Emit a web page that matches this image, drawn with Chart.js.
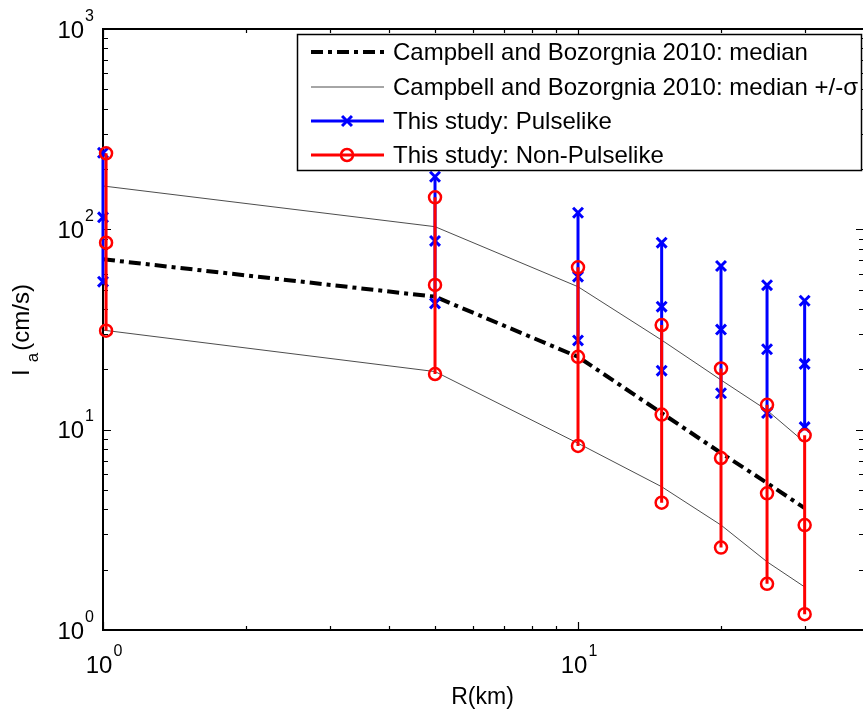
<!DOCTYPE html>
<html>
<head>
<meta charset="utf-8">
<script src="https://cdn.jsdelivr.net/npm/chart.js@4/dist/chart.umd.min.js"></script>
<style>
  html, body { margin: 0; padding: 0; overflow: hidden; background: #fff; }
  canvas { display: block; }
</style>
</head>
<body>
<canvas id="chart" width="880" height="713"></canvas>
<script>
// Rupture distance R (km)
const distances = [1, 5, 10, 15, 20, 25, 30];
const nonPulseDistances = [1.015, 5, 10, 15, 20, 25, 30];

// Campbell and Bozorgnia 2010 prediction of Arias intensity (cm/s)
const cbMedian = [70.9, 46.1, 23.1, 12.1, 7.65, 5.42, 4.06];
const cbPlusSigma = [164.6, 103.1, 51.7, 28.0, 17.7, 12.5, 8.65];
const cbMinusSigma = [31.4, 19.5, 8.55, 5.19, 3.34, 2.19, 1.64];

// This study, pulse-like records: upper / middle / lower value at each R
const pulseHigh = [241, 183, 121, 85.8, 65.6, 52.6, 44.0];
const pulseMid = [114.8, 87.5, 58.0, 41.1, 31.6, 25.2, 21.3];
const pulseLow = [54.8, 42.7, 27.9, 19.7, 15.2, 12.1, 10.3];

// This study, non-pulse-like records
const nonPulseHigh = [239.6, 144.5, 64.6, 33.3, 20.2, 13.3, 9.37];
const nonPulseMid = [85.8, 52.8, 23.1, 11.9, 7.22, 4.81, 3.34];
const nonPulseLow = [31.2, 18.96, 8.29, 4.32, 2.58, 1.70, 1.20];

// Axis ranges and labelled decades
const xRange = [1, 40];
const yRange = [1, 1000];
const xTickExponents = [0, 1];
const yTickExponents = [0, 1, 2, 3];

const seriesLabels = [
  'Campbell and Bozorgnia 2010: median',
  'Campbell and Bozorgnia 2010: median +/-\u03c3',
  'This study: Pulselike',
  'This study: Non-Pulselike'
];
const xTitle = 'R(km)';
const yTitleMain = 'I';
const yTitleSub = 'a';
const yTitleRest = '(cm/s)';

const FONT = "'Liberation Sans', Arial, Helvetica, sans-serif";

function curve(dists, vals) {
  return dists.map((d, i) => ({ x: d, y: vals[i] }));
}
function ranges(dists, hi, mid, lo) {
  const pts = [];
  dists.forEach((d, i) => {
    pts.push({ x: d, y: hi[i] }, { x: d, y: mid[i] }, { x: d, y: lo[i] }, { x: d, y: null });
  });
  return pts;
}

// Inward ticks on all four sides plus the box, MATLAB style
const axesBox = {
  id: 'axesBox',
  beforeDatasetsDraw(chart) {
    const { ctx, chartArea: a, scales: { x, y } } = chart;
    const logTicks = (min, max) => {
      const out = [];
      for (let p = Math.floor(Math.log10(min)); p <= Math.ceil(Math.log10(max)); p++) {
        for (let m = 1; m <= 9; m++) {
          const v = m * Math.pow(10, p);
          if (v >= min * 0.999 && v <= max * 1.001) out.push({ v, major: m === 1 });
        }
      }
      return out;
    };
    ctx.save();
    ctx.strokeStyle = '#000';
    ctx.lineWidth = 1.2;
    ctx.beginPath();
    logTicks(xRange[0], xRange[1]).forEach(t => {
      const px = Math.round(x.getPixelForValue(t.v)) + 0.5;
      const len = t.major ? 8 : 4;
      ctx.moveTo(px, a.bottom); ctx.lineTo(px, a.bottom - len);
      ctx.moveTo(px, a.top); ctx.lineTo(px, a.top + len);
    });
    logTicks(yRange[0], yRange[1]).forEach(t => {
      const py = Math.round(y.getPixelForValue(t.v)) + 0.5;
      const len = t.major ? 8 : 5;
      ctx.moveTo(a.left, py); ctx.lineTo(a.left + len, py);
      ctx.moveTo(a.right, py); ctx.lineTo(a.right - len, py);
    });
    ctx.stroke();
    ctx.lineWidth = 2;
    ctx.strokeRect(a.left, a.top, a.right - a.left, a.bottom - a.top);
    ctx.restore();
  },
  afterDraw(chart) {
    const { ctx, chartArea: a, scales: { x, y } } = chart;
    const base = 24, sup = 16;
    ctx.save();
    ctx.fillStyle = '#000';
    ctx.textBaseline = 'alphabetic';
    const pow10 = (e, left, baseline) => {
      ctx.font = base + 'px ' + FONT;
      ctx.fillText('10', left, baseline);
      const w = ctx.measureText('10').width;
      ctx.font = sup + 'px ' + FONT;
      ctx.fillText(String(e), left + w + 1, baseline - 17);
    };
    const widthOf = e => {
      ctx.font = base + 'px ' + FONT;
      const w1 = ctx.measureText('10').width;
      ctx.font = sup + 'px ' + FONT;
      return w1 + 1 + ctx.measureText(String(e)).width;
    };
    // y tick labels
    yTickExponents.forEach(e => {
      const py = y.getPixelForValue(Math.pow(10, e));
      const w = widthOf(e);
      pow10(e, a.left - 9 - w, py + 8.6);
    });
    // x tick labels
    xTickExponents.forEach(e => {
      const px = x.getPixelForValue(Math.pow(10, e));
      const w = widthOf(e);
      pow10(e, px - w / 2 + 1, a.bottom + 43);
    });
    // x title
    ctx.font = '23px ' + FONT;
    ctx.textAlign = 'center';
    ctx.fillText(xTitle, (a.left + 862) / 2, 704);
    // y title (rotated, with subscript)
    ctx.translate(29, 330);
    ctx.rotate(-Math.PI / 2);
    ctx.textAlign = 'left';
    ctx.font = '24px ' + FONT;
    const wI = ctx.measureText(yTitleMain).width;
    const wR = ctx.measureText(yTitleRest).width;
    ctx.font = '17px ' + FONT;
    const wA = ctx.measureText(yTitleSub).width;
    let sx = -(wI + wA + wR + 9) / 2;
    ctx.font = '24px ' + FONT;
    ctx.fillText(yTitleMain, sx, 0);
    sx += wI + 7;
    ctx.font = '17px ' + FONT;
    ctx.fillText(yTitleSub, sx, 9);
    sx += wA + 2;
    ctx.font = '24px ' + FONT;
    ctx.fillText(yTitleRest, sx, 0);
    ctx.restore();

    // legend box
    const datasets = chart.data.datasets;
    const rows = [52, 87, 121, 155];
    const textX = 393;
    const lf = '24px ' + FONT;
    ctx.save();
    ctx.font = lf;
    let maxW = 0;
    seriesLabels.forEach(l => { maxW = Math.max(maxW, ctx.measureText(l).width); });
    const bx0 = 297.5, by0 = 34.5, bx1 = Math.min(textX + maxW + 7, 861.5), by1 = 170.5;
    ctx.fillStyle = '#fff';
    ctx.fillRect(bx0, by0, bx1 - bx0, by1 - by0);
    ctx.strokeStyle = '#000';
    ctx.lineWidth = 1.5;
    ctx.strokeRect(bx0, by0, bx1 - bx0, by1 - by0);
    seriesLabels.forEach((label, i) => {
      const ds = datasets.find(d => d.label === label);
      const ry = rows[i];
      ctx.save();
      ctx.strokeStyle = ds.borderColor;
      ctx.lineWidth = ds.borderWidth;
      ctx.setLineDash(ds.borderDash || []);
      ctx.beginPath();
      ctx.moveTo(311, ry); ctx.lineTo(384, ry);
      ctx.stroke();
      ctx.setLineDash([]);
      if (ds.pointRadius > 0) {
        ctx.strokeStyle = ds.pointBorderColor;
        ctx.fillStyle = ds.pointBackgroundColor;
        ctx.lineWidth = ds.pointBorderWidth;
        Chart.helpers.drawPoint(ctx, {
          pointStyle: ds.pointStyle, rotation: 0,
          radius: ds.pointRadius, borderWidth: ds.pointBorderWidth
        }, 347, ry);
      }
      ctx.restore();
      ctx.fillStyle = '#000';
      ctx.font = lf;
      ctx.textBaseline = 'middle';
      ctx.fillText(label, textX, ry + 1);
    });
    ctx.restore();
  }
};

const chart = new Chart(document.getElementById('chart'), {
  type: 'scatter',
  data: {
    datasets: [
      {
        label: seriesLabels[3],
        data: ranges(nonPulseDistances, nonPulseHigh, nonPulseMid, nonPulseLow),
        showLine: true, spanGaps: false,
        borderColor: '#ff0000', borderWidth: 3,
        pointStyle: 'circle', pointRadius: 6, pointBorderWidth: 2.5,
        pointBorderColor: '#ff0000', pointBackgroundColor: 'rgba(255,255,255,0)',
        clip: false, order: 1
      },
      {
        label: seriesLabels[2],
        data: ranges(distances, pulseHigh, pulseMid, pulseLow),
        showLine: true, spanGaps: false,
        borderColor: '#0000ff', borderWidth: 3,
        pointStyle: 'crossRot', pointRadius: 7, pointBorderWidth: 3,
        pointBorderColor: '#0000ff', pointBackgroundColor: '#0000ff',
        clip: false, order: 2
      },
      {
        label: seriesLabels[1],
        data: curve(distances, cbPlusSigma).concat([{ x: 30, y: null }], curve(distances, cbMinusSigma)),
        showLine: true, spanGaps: false,
        borderColor: 'rgba(0,0,0,0.7)', borderWidth: 1,
        pointRadius: 0, pointBorderWidth: 0,
        order: 3
      },
      {
        label: seriesLabels[0],
        data: curve(distances, cbMedian),
        showLine: true,
        borderColor: '#000', borderWidth: 4, borderDash: [12, 5, 4, 5], borderCapStyle: 'butt',
        pointRadius: 0, pointBorderWidth: 0,
        order: 4
      }
    ]
  },
  options: {
    responsive: false,
    animation: false,
    devicePixelRatio: 1,
    layout: { padding: { left: 103, top: 29, right: 16, bottom: 83 } },
    scales: {
      x: { type: 'logarithmic', min: xRange[0], max: xRange[1], display: false },
      y: { type: 'logarithmic', min: yRange[0], max: yRange[1], display: false }
    },
    plugins: { legend: { display: false }, tooltip: { enabled: false } },
    elements: { line: { tension: 0 } }
  },
  plugins: [axesBox]
});
</script>
</body>
</html>
